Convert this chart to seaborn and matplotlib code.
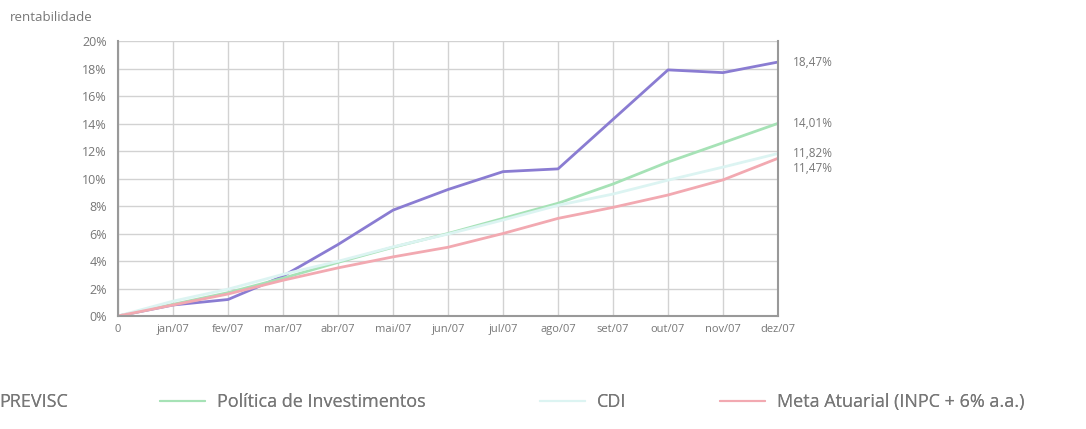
import matplotlib
matplotlib.use("Agg")
import matplotlib.pyplot as plt
import seaborn as sns
import pandas as pd

# Monthly cumulative return (%) for 2007
months = ["0", "jan/07", "fev/07", "mar/07", "abr/07", "mai/07", "jun/07",
          "jul/07", "ago/07", "set/07", "out/07", "nov/07", "dez/07"]
previsc = [0.0, 0.8, 1.2, 2.9, 5.2, 7.7, 9.2, 10.5, 10.7, 14.3, 17.9, 17.7, 18.47]
politica = [0.0, 0.85, 1.7, 2.75, 3.9, 5.0, 6.0, 7.1, 8.2, 9.6, 11.2, 12.6, 14.01]
cdi = [0.0, 1.08, 1.95, 3.03, 3.98, 5.03, 5.96, 6.98, 8.05, 8.87, 9.88, 10.83, 11.82]
meta = [0.0, 0.8, 1.6, 2.6, 3.5, 4.3, 5.0, 6.0, 7.1, 7.9, 8.8, 9.9, 11.47]

series_names = ["PREVISC", "Política de Investimentos", "CDI",
                "Meta Atuarial (INPC + 6% a.a.)"]
series_values = [previsc, politica, cdi, meta]
colors = ["#8a7cd2", "#a6e2b6", "#dcf4f2", "#f2a9b1"]
end_labels = ["18,47%", "14,01%", "11,82%", "11,47%"]

sns.set_theme(style="white")
plt.rcParams["font.family"] = ["Open Sans", "DejaVu Sans"]

fig = plt.figure(figsize=(10.86, 4.29), dpi=100)
ax = fig.add_axes([0.1087, 0.2634, 0.6077, 0.641])

x = list(range(len(months)))
handles = []
for name, vals, col in zip(series_names, series_values, colors):
    df = pd.DataFrame({"x": x, "y": vals})
    sns.lineplot(data=df, x="x", y="y", ax=ax, color=col, linewidth=2.0,
                 label=name, legend=False)
    handles.append(ax.lines[-1])

ax.set_xlim(0, 12)
ax.set_ylim(0, 20)
ax.set_xticks(x)
ax.set_xticklabels(months, fontsize=8, color="#777777")
yt = list(range(0, 21, 2))
ax.set_yticks(yt)
ax.set_yticklabels([f"{v}%" for v in yt], fontsize=9, color="#777777")
ax.set_xlabel("")
ax.set_ylabel("")
ax.grid(True, color="#d2d2d2", linewidth=1.0)
ax.tick_params(axis="x", pad=6, length=0)
ax.tick_params(axis="y", pad=4, length=4, color="#999999")
for side in ["left", "bottom", "right"]:
    ax.spines[side].set_color("#999999")
    ax.spines[side].set_linewidth(1.5)
ax.spines["top"].set_visible(False)

# Final values written to the right of the plot
label_y = [18.47, 14.01, 11.82, 10.75]
for lbl, yv in zip(end_labels, label_y):
    ax.annotate(lbl, xy=(12, yv), xytext=(11, 0), textcoords="offset points",
                va="center", ha="left", fontsize=8.5, color="#777777",
                annotation_clip=False)

fig.text(0.009, 0.96, "rentabilidade", fontsize=9.5, color="#777777",
         ha="left", va="center")

# One legend entry per slot along the bottom edge
legend_x = [-0.053, 0.147, 0.497, 0.663]
for h, name, lx in zip(handles, series_names, legend_x):
    leg = fig.legend(handles=[h], labels=[name], loc="center left",
                     bbox_to_anchor=(lx, 0.063), frameon=False,
                     fontsize=13, handlelength=2.5, handletextpad=0.65,
                     borderpad=0, borderaxespad=0, labelcolor="#777777")
    for ln in leg.get_lines():
        ln.set_linewidth(1.5)
    fig.add_artist(leg)

fig.savefig("out.png", dpi=100)
